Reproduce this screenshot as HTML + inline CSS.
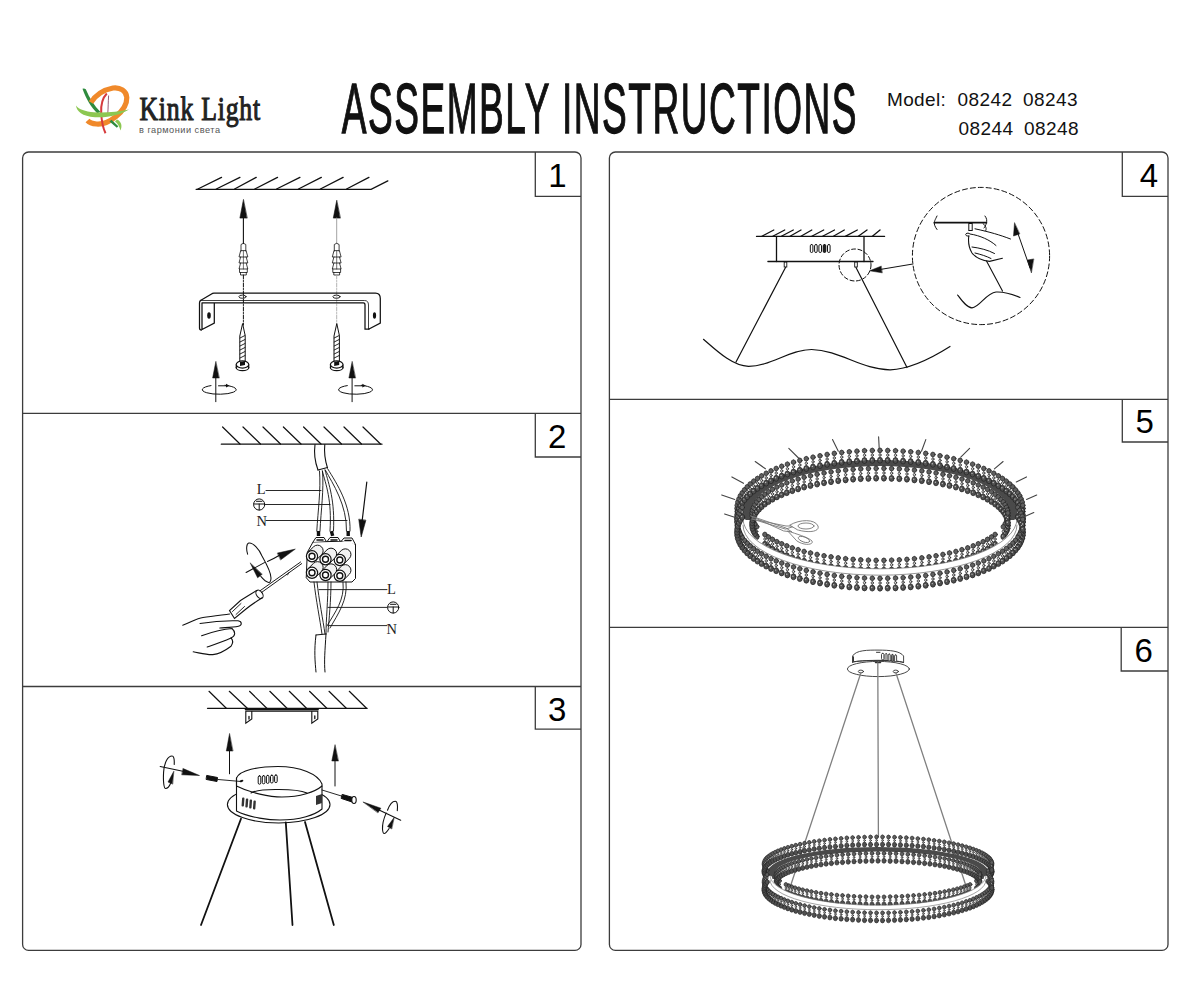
<!DOCTYPE html>
<html><head><meta charset="utf-8">
<style>
html,body{margin:0;padding:0;background:#fff;width:1200px;height:1000px;overflow:hidden}
svg{position:absolute;left:0;top:0}
text{font-family:"Liberation Sans",sans-serif}
</style></head><body>
<svg width="1200" height="1000" viewBox="0 0 1200 1000">
<!-- HEADER -->
<g id="logo">
  <path d="M82.5 88.8 Q84 87.8 85.8 89.2 C89.5 98 94.5 106 100.5 112 L97.2 113.2 C91 107 86 99 82.5 88.8 Z" fill="#2e8b3e"/>
  <path d="M91 102.5 C95 96 103 90 113 88 C120 87 126.5 91 126.8 97.5 C127 104.5 122 111.5 116 116.5 C110 121.5 103 124.5 96.5 124 C92 123.7 88.8 122 87.5 120.5" fill="none" stroke="#f0892a" stroke-width="5.2" stroke-linejoin="round"/>
  <path d="M109.5 121.5 L116.8 127.8 L118.3 126.2 L111.5 119.8 Z" fill="#2e8b3e"/>
  <path d="M117 119.5 C121.5 121.5 122.5 126 120.5 130.5 C119.5 127 118 123.5 115 121.5 Z" fill="#8cc751"/>
  <path d="M106.8 93.5 C102.5 98 100.8 106 101.2 113 C101.6 121 103 128 105.5 133.3" fill="none" stroke="#d63a3c" stroke-width="2"/>
  <path d="M108.6 95.5 C108.2 102 108.2 108 107.8 113" fill="none" stroke="#8a4a66" stroke-width="0.9"/>
  <path d="M76 105.5 C76.8 111.5 82 116.3 95 117.2 C108 118 122 114.3 129 109.5 C118 112 104 113 94 112.3 C85 111.5 79 109.5 76 105.5 Z" fill="#8cc751"/>
</g>
<text x="139.5" y="119.8" font-size="33" fill="#222" stroke="#222" stroke-width="1.1" letter-spacing="1" transform="translate(139.5 0) scale(0.78 1) translate(-139.5 0)" style="font-family:'Liberation Serif',serif">Kink Light</text>
<text x="139" y="132.5" font-size="9.2" fill="#555" letter-spacing="0.5">в гармонии света</text>
<text x="341.5" y="132.6" font-size="71" fill="#111" stroke="#111" stroke-width="1.3" letter-spacing="2.9" transform="translate(342 0) scale(0.522 1) translate(-342 0)">ASSEMBLY INSTRUCTIONS</text>
<text x="887" y="105.7" font-size="19" fill="#111" letter-spacing="0.35">Model:</text>
<text x="957.5" y="105.7" font-size="19" fill="#111" letter-spacing="0.45">08242</text>
<text x="1023" y="105.7" font-size="19" fill="#111" letter-spacing="0.45">08243</text>
<text x="958.5" y="135.4" font-size="19" fill="#111" letter-spacing="0.45">08244</text>
<text x="1024" y="135.4" font-size="19" fill="#111" letter-spacing="0.45">08248</text>

<!-- FRAMES -->
<g fill="none" stroke="#3c3c3c" stroke-width="1.3">
  <rect x="22.6" y="152" width="558.4" height="798.4" rx="6"/>
  <line x1="22.6" y1="413.3" x2="581" y2="413.3"/>
  <line x1="22.6" y1="686.5" x2="581" y2="686.5"/>
  <rect x="609.4" y="152" width="558.6" height="798.4" rx="6"/>
  <line x1="609.4" y1="399.3" x2="1168" y2="399.3"/>
  <line x1="609.4" y1="627.3" x2="1168" y2="627.3"/>
  <!-- number boxes -->
  <polyline points="535.3,152 535.3,196.3 581,196.3"/>
  <polyline points="535.3,413.3 535.3,457 581,457"/>
  <polyline points="535.3,686.5 535.3,729.2 581,729.2"/>
  <polyline points="1122.3,152 1122.3,196.3 1168,196.3"/>
  <polyline points="1122.3,399.3 1122.3,442 1168,442"/>
  <polyline points="1121.2,627.3 1121.2,671 1168,671"/>
</g>
<g font-size="33" fill="#000" text-anchor="middle">
  <text x="557.5" y="186.7">1</text>
  <text x="557.3" y="448.3">2</text>
  <text x="557.3" y="720.8">3</text>
  <text x="1149" y="187">4</text>
  <text x="1144.6" y="432.9">5</text>
  <text x="1143.8" y="661.5">6</text>
</g>

<!-- PANEL DRAWINGS -->
<g id="p1" fill="none" stroke="#111" stroke-width="1.3" stroke-linecap="round">
  <path d="M196.1 189.3 H371.1 L387.8 180.9"/>
  <path d="M197.9 189 L221.5 177.4 M216.3 189 L239.9 177.4 M234.6 189 L256.2 177.4 M254.8 189 L277.5 177.4 M276.6 189 L299.9 177.4 M298.5 189 L321.3 177.4 M320.4 189 L343.1 177.4 M346.6 189 L368.9 177.4"/>
  <!-- arrows -->
  <path d="M243.4 199.8 L239.9 218.1 H246.9 Z" fill="#111" stroke-width="0.6"/>
  <line x1="243.4" y1="218" x2="243.4" y2="243.5" stroke-width="1.1"/>
  <path d="M336.7 200.6 L333.3 218.1 H340.1 Z" fill="#111" stroke-width="0.6"/>
  <line x1="336.7" y1="218" x2="336.7" y2="243.5" stroke="#999" stroke-width="0.9"/>
  <!-- anchors -->
  <g id="anc" stroke-width="0.8">
    <path d="M241 251 V244.5 Q243.4 242 245.8 244.5 V251"/>
    <path d="M240.6 251 L239 257 H247.8 L246.2 251 Z M240.6 257 L239 263 H247.8 L246.2 257 M240.6 263 L239 269 H247.8 L246.2 263"/>
    <path d="M239.5 269 V272.5 H247.3 V269 M240.5 272.5 V275 H246.3 V272.5"/>
    <path d="M243.4 251 V269" stroke-width="0.6"/>
  </g>
  <use href="#anc" x="93.3"/>
  <!-- dashed center lines -->
  <line x1="243.4" y1="275" x2="243.4" y2="325" stroke-width="1" stroke-dasharray="4 1.5 1 1.5"/>
  <line x1="336.7" y1="275" x2="336.7" y2="325" stroke="#aaa" stroke-width="0.9" stroke-dasharray="4 1.5 1 1.5"/>
  <!-- bracket -->
  <path d="M214 293 H375.5 Q380.3 293 380.3 298.5 V323 L369 329 M200.5 300.5 L211.5 294 Q212.5 293 214 293" stroke-width="1.25"/>
  <path d="M200.5 300.5 H364.5 Q368.5 300.5 368.5 305 V329" stroke-width="0.8"/>
  <path d="M202 302.8 H363.5 Q365 302.8 365 305 V329 H369 M200.5 300.5 Q199.5 301.5 199.5 303 V328 Q199.5 330 201.5 330 M202 302.8 V329.5 L214.3 323 V302.8" stroke-width="1.25"/>
  
  <ellipse cx="242.5" cy="296.7" rx="3.6" ry="1.6" stroke-width="0.9"/>
  <ellipse cx="336.5" cy="296.7" rx="3.6" ry="1.6" stroke-width="0.9"/>
  <ellipse cx="209" cy="315.5" rx="1.8" ry="3.2" fill="#111" stroke="none"/>
  <ellipse cx="374.5" cy="315.5" rx="1.6" ry="3.2" fill="#111" stroke="none"/>
  <!-- screws -->
  <g id="scr">
    <path d="M242.5 324 L239.8 336 V362 H245.2 V336 Z" fill="#fff" stroke-width="1"/>
    <path d="M240 338 L245 335.5 M240 342 L245 339.5 M240 346 L245 343.5 M240 350 L245 347.5 M240 354 L245 351.5 M240 358 L245 355.5" stroke-width="0.9"/>
    <ellipse cx="242.5" cy="367.5" rx="6.3" ry="3.2" fill="#fff" stroke-width="1.2"/>
    <path d="M236.2 365 V368 M248.8 365 V368" stroke-width="1"/>
    <ellipse cx="242.5" cy="364.5" rx="6.3" ry="3.6" fill="#fff" stroke-width="1.2"/>
    <path d="M240 362 L245 361 V365 L240 366Z" fill="#111" stroke="none"/>
  </g>
  <use href="#scr" x="94.2"/>
  <!-- rotation arrows -->
  <g id="rot">
    <path d="M215.8 361.7 L212.6 378 H219 Z" fill="#111" stroke-width="0.5"/>
    <line x1="215.8" y1="377" x2="215.8" y2="401.7" stroke-width="1"/>
    <path d="M211 385.6 A17 4.6 0 1 0 225 385.3" stroke-width="1"/>
    <path d="M218.5 385.8 H226" stroke-width="1"/>
    <path d="M226 383.8 L229.5 385.8 L226 387.6Z" fill="#111" stroke="none"/>
  </g>
  <use href="#rot" x="136.3"/>
</g>
<g id="p2" fill="none" stroke="#111" stroke-width="1.2" stroke-linecap="round">
  <path d="M221.3 444.2 H382"/>
  <path d="M222.6 427 L240 444 M243 427 L260.5 444 M263 427 L280.5 444 M283.4 427 L301 444 M303.6 427 L321 444 M324 427 L341.5 444 M344 427 L361.5 444 M363 427 L380.5 444"/>
  <!-- upper cable -->
  <path d="M315 444.5 C314 452 315 462 318 470 M324.8 444.5 C324 452 325 460 327.5 468" stroke-width="1.1"/>
  <path d="M318 470 L327.5 467.5" stroke-width="1.1"/>
  <path d="M319.5 471 C321 490 318 510 316.8 531 M322.5 471 C324 490 321 510 320 531" stroke-width="0.9"/>
  <path d="M322.3 471 C326 485 332 500 330 531 M325 470 C329 485 335 500 333.5 531" stroke-width="0.9"/>
  <path d="M325.3 470 C333 484 347 505 346.5 531 M327.8 469 C337 484 351 505 350 531" stroke-width="0.9"/>
  <rect x="316.8" y="531" width="3.4" height="5" fill="#111" stroke="none"/>
  <rect x="330.2" y="531" width="3.4" height="5" fill="#111" stroke="none" transform="rotate(-15 332 533)"/>
  <rect x="346.5" y="531" width="3.4" height="5" fill="#111" stroke="none"/>
  <path d="M266 490.5 H321 M265.5 504.5 H330 M266 520.5 H347" stroke-width="0.9"/>
  <!-- labels -->
  <text x="256.8" y="493.5" font-size="14.5" fill="#222" stroke="none" style="font-family:'Liberation Serif',serif">L</text>
  <text x="256.5" y="525.5" font-size="14.5" fill="#222" stroke="none" style="font-family:'Liberation Serif',serif">N</text>
  <g id="earth" stroke-width="1">
    <circle cx="259.2" cy="504.5" r="5.6"/>
    <path d="M253.8 504 H264.6 M259.2 504 V510 M256.5 501.3 H262"/>
  </g>
  <!-- arrow down -->
  <path d="M366.8 482 L362 522"/>
  <path d="M358.8 519.5 L361.2 537 L365.8 520.5 Z" fill="#111" stroke-width="0.6"/>
  <!-- terminal block -->
  <g stroke-width="1">
  <path d="M307.5 552 L313 542 L349 541 L355.5 544.5 V578.5 L352 582 H310 L306.5 578 Z" fill="#fff"/>
  <path d="M313 542 L316 537.5 H324 L326 541 M327.5 541 L330 537.5 H338 L340 541 M341.5 541 L344 538 H352 L355.5 544.5" fill="#fff"/>
  <path d="M317 540 H323 M331 540 H337 M345 540.5 H351" stroke-width="1.6"/>
  <path d="M343.8 579.8 L349.3 574.3 A5.6 5.6 0 0 0 341.3 566.3 L335.8 571.8 Z" fill="#f2f2f2" stroke-width="1"/>
  <circle cx="339.8" cy="575.8" r="5.6" fill="#fff" stroke-width="1.2"/>
  <circle cx="339.8" cy="575.8" r="3" fill="#fff" stroke-width="1.4"/>
  <path d="M329.5 579.0 L335.0 573.5 A5.6 5.6 0 0 0 327.0 565.5 L321.5 571.0 Z" fill="#f2f2f2" stroke-width="1"/>
  <circle cx="325.5" cy="575" r="5.6" fill="#fff" stroke-width="1.2"/>
  <circle cx="325.5" cy="575" r="3" fill="#fff" stroke-width="1.4"/>
  <path d="M316.0 576.8 L321.5 571.3 A5.6 5.6 0 0 0 313.5 563.3 L308.0 568.8 Z" fill="#f2f2f2" stroke-width="1"/>
  <circle cx="312" cy="572.8" r="5.6" fill="#fff" stroke-width="1.2"/>
  <circle cx="312" cy="572.8" r="3" fill="#fff" stroke-width="1.4"/>
  <path d="M343.8 564.0 L349.3 558.5 A5.6 5.6 0 0 0 341.3 550.5 L335.8 556.0 Z" fill="#f2f2f2" stroke-width="1"/>
  <circle cx="339.8" cy="560" r="5.6" fill="#fff" stroke-width="1.2"/>
  <circle cx="339.8" cy="560" r="3" fill="#fff" stroke-width="1.4"/>
  <path d="M329.5 563.3 L335.0 557.8 A5.6 5.6 0 0 0 327.0 549.8 L321.5 555.3 Z" fill="#f2f2f2" stroke-width="1"/>
  <circle cx="325.5" cy="559.3" r="5.6" fill="#fff" stroke-width="1.2"/>
  <circle cx="325.5" cy="559.3" r="3" fill="#fff" stroke-width="1.4"/>
  <path d="M316.0 560.3 L321.5 554.8 A5.6 5.6 0 0 0 313.5 546.8 L308.0 552.3 Z" fill="#f2f2f2" stroke-width="1"/>
  <circle cx="312" cy="556.3" r="5.6" fill="#fff" stroke-width="1.2"/>
  <circle cx="312" cy="556.3" r="3" fill="#fff" stroke-width="1.4"/>
  </g>
  <!-- lower wires -->
  <path d="M314 582 C316 600 320 620 322 634 M317 582 C319 600 323 620 325 634" stroke-width="0.9"/>
  <path d="M328 582 C328 600 326 620 326 634 M331 582 C331 600 329 620 328 632" stroke-width="0.9"/>
  <path d="M343 582 C345 600 335 612 327 626 M346 582 C348 600 338 614 330 628" stroke-width="0.9"/>
  <path d="M316 635 C314 650 315 662 316 672 M326 634 C325 650 324 662 325 672 M316 635 L326 634" stroke-width="1"/>
  <path d="M319 589.6 H387 M328 607.4 H387 M329 625.6 H387" stroke-width="0.9"/>
  <text x="387" y="593.5" font-size="14.5" fill="#222" stroke="none" style="font-family:'Liberation Serif',serif">L</text>
  <text x="386.5" y="633.5" font-size="14.5" fill="#222" stroke="none" style="font-family:'Liberation Serif',serif">N</text>
  <use href="#earth" x="134" y="103"/>
  <!-- rotation symbol -->
  <path d="M247.6 554.2 C246 549 246.5 543.5 248.8 543.1 C253 542.5 259 549 262 556 C266 563 271 572 271 578 C271 582 269.5 582.6 268.6 582.4 C266 582 263 579 260.8 576.4" stroke-width="1.05"/>
  <path d="M246.1 572.5 L264.4 562.6 M267.4 561.4 C271 560 275 558 279 555.5" stroke-width="1.05"/>
  <path d="M277.6 553 L295.3 549.1 L280.8 559.8 Z" fill="#111" stroke-width="0.5"/>
  <path d="M250.3 563.2 L257.6 577.8 L262 574.4 Z" fill="#111" stroke-width="0.5"/>
  <!-- screwdriver -->
  <path d="M301.7 563.6 L261.5 592.5 M300.6 562 L260 590.8" stroke-width="0.95"/>
  <path d="M289 572.5 L287.5 575" stroke-width="0.8"/>
  <ellipse cx="259.5" cy="594.3" rx="3" ry="4.6" transform="rotate(-35 259.5 594.3)" stroke-width="1.1"/>
  <path d="M256.5 590.5 C251 594 246 597 240.5 600.5 L229.5 610.5 L234.5 618.5 L246 609 C251 605 256 601.5 262 598" stroke-width="1.1"/>
  <path d="M241 603.5 L232.5 611.5 M244.5 606.5 L236 614.5" stroke-width="0.9"/>
  <!-- hand -->
  <path d="M182.7 625.2 C190 623 196 618.5 203 617.5 C212 616.5 222 615 229.6 614" stroke-width="1.1"/>
  <path d="M200 623.5 C212 621.5 228 620.5 238 620.8 C242.5 621.5 242 625.5 238.5 626.2 C232 627.5 225 627.5 219.8 628" stroke-width="1.1"/>
  <path d="M201.6 635.7 C212 632 224 629 232 628.5 C236 632 235.5 636 231 638 C222 642 213 645 207.2 647" stroke-width="1.1"/>
  <path d="M193.2 651.8 C200 653 207 655 212.8 654.6 C220 654 226 650 231 646.2 C233.5 642.5 233 640 231 638" stroke-width="1.1"/>
</g>
<g id="p3" fill="none" stroke="#111" stroke-width="1.2" stroke-linecap="round">
  <path d="M207.5 708.3 H367.2"/>
  <path d="M209 691.3 L226.3 708.3 M229.3 691.3 L247.3 708.3 M249.5 691.3 L266.8 708.3 M269.8 691.3 L287 708.3 M289.3 691.3 L306.5 708.3 M309.5 691.3 L326.8 708.3 M329 691.3 L346.3 708.3 M349.3 691.3 L366.5 708.3"/>
  <!-- small bracket -->
  <path d="M245.8 711.3 H317.8 V719 L311.8 723.3 V711.3 M251.8 711.3 V719 L245.8 723.3 V711.3" stroke-width="1.1"/>
  <path d="M245.8 709.5 H317.8" stroke-width="2.2"/>
  <path d="M249 716.5 V719 M314.8 716 V718.5" stroke-width="1.3"/>
  <!-- up arrows -->
  <path d="M229.5 733.8 L226.3 751 H232.7 Z" fill="#111" stroke-width="0.5"/>
  <line x1="229.5" y1="750" x2="229.5" y2="773.8" stroke-width="1"/>
  <path d="M335 745 L331.8 761 H338.2 Z" fill="#111" stroke-width="0.5"/>
  <line x1="335" y1="760" x2="335" y2="786" stroke-width="1"/>
  <!-- flange -->
  <ellipse cx="278.7" cy="804.5" rx="51.3" ry="18.5" fill="#fff" stroke-width="1.1"/>
  <!-- cylinder -->
  <path d="M236.5 778 C240 770 258 766.5 278 766.5 C300 766.5 318 774 322 784 V809 C315 815 300 820 280 820 C270 820 250 818 236.5 811 Z" fill="#fff" stroke-width="1.1"/>
  <path d="M236.5 778 V786 C250 793 270 797 282 797 C300 797 315 792 322 786" stroke-width="1.1"/>
  <path d="M251 793 C258 789 270 789.5 279 789.5 C290 789.5 300 790 307 793" stroke-width="1.1"/>
  <!-- vents -->
  <g fill="#fff" stroke-width="1">
    <rect x="258.2" y="775.8" width="2.6" height="8.4" rx="1.3"/>
    <rect x="262.3" y="775.6" width="2.6" height="8.2" rx="1.3"/>
    <rect x="266.4" y="775.4" width="2.6" height="8" rx="1.3"/>
    <rect x="270.5" y="775.2" width="2.6" height="7.8" rx="1.3"/>
    <rect x="274.6" y="775" width="2.6" height="7.6" rx="1.3"/>
  </g>
  <g fill="#333" stroke="none">
    <rect x="241.8" y="797.5" width="2.4" height="9" rx="1" transform="rotate(4 243 802)"/>
    <rect x="245.6" y="798.5" width="2.4" height="9" rx="1" transform="rotate(4 247 803)"/>
    <rect x="249.4" y="799.5" width="2.4" height="9" rx="1" transform="rotate(4 251 804)"/>
    <rect x="253.2" y="800.5" width="2.4" height="9" rx="1" transform="rotate(4 255 805)"/>
    <path d="M316 796 L322 794 V803 L316 805 Z"/>
  </g>
  <ellipse cx="241.5" cy="781" rx="2" ry="1" fill="#111" stroke="none" transform="rotate(-25 241.5 781)"/>
  <!-- left screw + arrow -->
  <path d="M207 775.5 L217.5 777.5 L217 781.5 L206.5 779.5 Z" fill="#111" stroke-width="1"/>
  <line x1="218" y1="779.5" x2="241" y2="781.5" stroke-width="0.9"/>
  
  
  
  
  
  <!-- right screw + arrow -->
  <line x1="322" y1="790" x2="343" y2="796.5" stroke-width="0.9"/>
  <path d="M342.5 794.5 L353 797.5 L352 802 L341.5 798.5 Z" fill="#111" stroke-width="1"/>
  <ellipse cx="354" cy="800" rx="2.2" ry="3.5" fill="#fff" stroke-width="1.1"/>
  
  
  
  
  
  <path d="M174.2 764.5 C174.6 758 173.5 756 172 756 C168 756 164.3 762 163.6 772 C163 782 164 788.5 165.6 788.5 C167.5 788.5 169.5 786 170.5 783.5" stroke-width="1.1"/>
  <path d="M173.7 771.5 L168 782 L172.4 784 Z" fill="#111" stroke-width="0.5"/>
  <path d="M160.2 766.5 L184 771.5" stroke-width="1.1"/>
  <path d="M183.2 768.6 L199.5 775.5 L182 774.8 Z" fill="#111" stroke-width="0.5"/>
  <path d="M387.5 810.3 C389.5 805 392.5 801.3 395.2 801.3 C397.5 801.3 397.8 806 397.3 810.6" stroke-width="1.1"/>
  <path d="M386.1 813.1 C384 818 382.3 824 382.5 829 C382.7 832 383.5 833.5 384.2 833.5 C385.5 833.5 387.5 831 389.1 828.5" stroke-width="1.1"/>
  <path d="M394.1 817.5 L387.5 826.5 L391.5 828.8 Z" fill="#111" stroke-width="0.5"/>
  <path d="M400.7 820.3 L378 809.5" stroke-width="1.1"/>
  <path d="M363.3 802.1 L380.9 808.2 L378.1 812.6 Z" fill="#111" stroke-width="0.5"/>
  <!-- suspension wires -->
  <path d="M241 818.8 L201 925 M285.8 822.5 L292.5 925 M305 822 L333.8 925" stroke-width="1.8"/>
</g>
<g id="p4" fill="none" stroke="#111" stroke-width="1.2" stroke-linecap="round">
  <path d="M756.5 236.4 H884.6"/>
  <path d="M761.9 236.3 L773.8 230 M772.8 236.3 L784.7 230 M781.4 236.3 L793.3 230 M790 236.3 L801 230 M800.9 236.3 L811.8 230 M811.8 236.3 L823.7 230 M822.6 236.3 L834.5 230 M833.4 236.3 L844.3 230 M845.3 236.3 L857.3 230 M858.3 236.3 L867 230 M872.4 236.3 L880 230" stroke-width="1.3"/>
  <path d="M776.5 236.5 V261.5 M864 236.5 V261.5" stroke-width="1.3"/>
  <path d="M767.9 261.5 H873" stroke-width="1.3"/>
  <g fill="#fff" stroke-width="1">
    <rect x="810.3" y="244.5" width="2.6" height="8" rx="1.3"/>
    <rect x="814.6" y="244.5" width="2.6" height="8" rx="1.3"/>
    <rect x="818.9" y="244.5" width="2.6" height="8" rx="1.3"/>
    <rect x="823.2" y="244.5" width="2.6" height="8" rx="1.3" fill="#222"/>
    <rect x="827.5" y="244.5" width="2.6" height="8" rx="1.3"/>
  </g>
  <rect x="784.2" y="262" width="2.6" height="5" stroke-width="0.9"/>
  <rect x="854.7" y="262" width="2.6" height="5" stroke-width="0.9"/>
  <path d="M785.5 267.5 L736 362 M856 267.5 L907 367.5" stroke-width="1.2"/>
  <path d="M703.5 339.3 C718 352 733 366 748.5 366.4 C770 366.5 790 349.5 811.6 349.5 C840 350 862 370 890.3 369.8 C912 369 935 356 950 346.5" stroke-width="1.2"/>
  <circle cx="855" cy="265" r="16" stroke-width="1" stroke-dasharray="4 2.5"/>
  <!-- pointer arrow -->
  <path d="M913 264 L880 269.5" stroke-width="1"/>
  <path d="M881 266.2 L869.5 270.8 L882 272.8 Z" fill="#111" stroke-width="0.5"/>
  <!-- big detail circle -->
  <circle cx="981" cy="256" r="68.6" stroke-width="1" stroke-dasharray="5 3"/>
  <path d="M934.4 222.7 H986.4" stroke-width="1.8"/>
  <path d="M937 216 C935 220 934 222 934.4 222.7 C934 224 935 227 937 229.5" stroke-width="1"/>
  <path d="M985 216 C987 218.5 987 221 986.4 222.7 C986 225 985 227 984 228" stroke-width="1"/>
  <rect x="968.8" y="223.5" width="3.4" height="7" stroke-width="1"/>
  <path d="M975 228.8 C990 232 1000 235 1010.5 239" stroke-width="1"/>
  <path d="M983 223.5 C986 226 987 229 985.5 231" stroke-width="1"/>
  <path d="M969 236 C966.5 236.5 965 235 966 233.8 C967 232.8 969 233 970 234 C980 235.5 990 240 996 245.5" stroke-width="1"/>
  <path d="M968.8 236 C968 242 969 248 972 253 C976 258 982 260.5 989.6 261.4 L1002.4 258.2" stroke-width="1.1"/>
  <path d="M972 247 C980 248 988 250 994.5 253.5 M975 253 C981 254.5 986 256 991 258.5" stroke-width="1"/>
  <path d="M986.5 261 L1002.5 291 M957.6 295 C962 301 967 308 972 307.9 C980 307 986 293 996 292 C1005 291.5 1012 294 1020 297.5" stroke-width="1.1"/>
  <path d="M1016 228 L1030 268" stroke-width="1"/>
  <path d="M1014.5 223 L1013.5 236 L1019.5 234 Z M1031.3 272.6 L1027.5 260 L1033.5 259 Z" fill="#111" stroke-width="0.5"/>
</g>
<g id="p5" fill="none" stroke-linecap="round">
  <defs>
  <g id="s5" stroke="#222" stroke-width="0.7" fill="#606060">
    <path d="M0 0 V13" stroke="#444" stroke-width="0.7"/>
    <circle cx="0" cy="2.4" r="2.3"/>
    <circle cx="0" cy="7" r="1.2" fill="#ddd"/>
    <ellipse cx="0" cy="12.2" rx="2.5" ry="3" fill="#505050"/>
    <circle cx="-0.6" cy="11.6" r="0.7" fill="#bbb" stroke="none"/>
  </g>
  <g id="s6" stroke="#222" stroke-width="0.6" fill="#606060">
    <path d="M0 0 V10" stroke="#444" stroke-width="0.6"/>
    <circle cx="0" cy="1.9" r="1.9"/>
    <circle cx="0" cy="5.3" r="0.9" fill="#ddd"/>
    <ellipse cx="0" cy="9.4" rx="2.1" ry="2.5" fill="#505050"/>
  </g>
</defs>
  <path d="M740.0 520.0 V512.0 A140 52 0 0 1 1020.0 512.0 V520.0 L1009.0 520.0 V512.0 A129 46 0 0 0 751.0 512.0 V520.0 Z" fill="#4a4a4a" stroke="none"/>
  <g><use href="#s5" x="1023.0" y="506.0"/><use href="#s5" x="1022.8" y="509.1"/><use href="#s5" x="1022.2" y="512.3"/><use href="#s5" x="1021.1" y="515.4"/><use href="#s5" x="1019.7" y="518.5"/><use href="#s5" x="1017.8" y="521.5"/><use href="#s5" x="742.2" y="521.5"/><use href="#s5" x="740.3" y="518.5"/><use href="#s5" x="738.9" y="515.4"/><use href="#s5" x="737.8" y="512.3"/><use href="#s5" x="737.2" y="509.1"/><use href="#s5" x="737.0" y="506.0"/><use href="#s5" x="737.2" y="502.9"/><use href="#s5" x="737.8" y="499.7"/><use href="#s5" x="738.9" y="496.6"/><use href="#s5" x="740.3" y="493.5"/><use href="#s5" x="742.2" y="490.5"/><use href="#s5" x="744.5" y="487.5"/><use href="#s5" x="747.2" y="484.5"/><use href="#s5" x="750.2" y="481.6"/><use href="#s5" x="753.7" y="478.8"/><use href="#s5" x="757.5" y="476.1"/><use href="#s5" x="761.6" y="473.5"/><use href="#s5" x="766.2" y="470.9"/><use href="#s5" x="771.0" y="468.5"/><use href="#s5" x="776.2" y="466.1"/><use href="#s5" x="781.7" y="463.9"/><use href="#s5" x="787.4" y="461.8"/><use href="#s5" x="793.5" y="459.8"/><use href="#s5" x="799.8" y="458.0"/><use href="#s5" x="806.3" y="456.3"/><use href="#s5" x="813.0" y="454.8"/><use href="#s5" x="820.0" y="453.4"/><use href="#s5" x="827.1" y="452.1"/><use href="#s5" x="834.3" y="451.0"/><use href="#s5" x="841.7" y="450.1"/><use href="#s5" x="849.3" y="449.4"/><use href="#s5" x="856.9" y="448.8"/><use href="#s5" x="864.5" y="448.3"/><use href="#s5" x="872.3" y="448.1"/><use href="#s5" x="880.0" y="448.0"/><use href="#s5" x="887.7" y="448.1"/><use href="#s5" x="895.5" y="448.3"/><use href="#s5" x="903.1" y="448.8"/><use href="#s5" x="910.7" y="449.4"/><use href="#s5" x="918.3" y="450.1"/><use href="#s5" x="925.7" y="451.0"/><use href="#s5" x="932.9" y="452.1"/><use href="#s5" x="940.0" y="453.4"/><use href="#s5" x="947.0" y="454.8"/><use href="#s5" x="953.7" y="456.3"/><use href="#s5" x="960.2" y="458.0"/><use href="#s5" x="966.5" y="459.8"/><use href="#s5" x="972.6" y="461.8"/><use href="#s5" x="978.3" y="463.9"/><use href="#s5" x="983.8" y="466.1"/><use href="#s5" x="989.0" y="468.5"/><use href="#s5" x="993.8" y="470.9"/><use href="#s5" x="998.4" y="473.5"/><use href="#s5" x="1002.5" y="476.1"/><use href="#s5" x="1006.3" y="478.8"/><use href="#s5" x="1009.8" y="481.6"/><use href="#s5" x="1012.8" y="484.5"/><use href="#s5" x="1015.5" y="487.5"/><use href="#s5" x="1017.8" y="490.5"/><use href="#s5" x="1019.7" y="493.5"/><use href="#s5" x="1021.1" y="496.6"/><use href="#s5" x="1022.2" y="499.7"/><use href="#s5" x="1022.8" y="502.9"/></g>
  <g><use href="#s5" x="1007.9" y="513.4"/><use href="#s5" x="1007.5" y="516.2"/><use href="#s5" x="1006.5" y="518.9"/><use href="#s5" x="1005.1" y="521.7"/><use href="#s5" x="1003.3" y="524.4"/><use href="#s5" x="756.7" y="524.4"/><use href="#s5" x="754.9" y="521.7"/><use href="#s5" x="753.5" y="518.9"/><use href="#s5" x="752.5" y="516.2"/><use href="#s5" x="752.1" y="513.4"/><use href="#s5" x="752.1" y="510.6"/><use href="#s5" x="752.5" y="507.8"/><use href="#s5" x="753.5" y="505.1"/><use href="#s5" x="754.9" y="502.3"/><use href="#s5" x="756.7" y="499.6"/><use href="#s5" x="759.0" y="497.0"/><use href="#s5" x="761.7" y="494.4"/><use href="#s5" x="764.9" y="491.9"/><use href="#s5" x="768.5" y="489.4"/><use href="#s5" x="772.5" y="487.0"/><use href="#s5" x="776.9" y="484.7"/><use href="#s5" x="781.7" y="482.6"/><use href="#s5" x="786.8" y="480.5"/><use href="#s5" x="792.3" y="478.5"/><use href="#s5" x="798.1" y="476.7"/><use href="#s5" x="804.1" y="474.9"/><use href="#s5" x="810.5" y="473.4"/><use href="#s5" x="817.1" y="471.9"/><use href="#s5" x="824.0" y="470.6"/><use href="#s5" x="831.0" y="469.5"/><use href="#s5" x="838.2" y="468.5"/><use href="#s5" x="845.6" y="467.7"/><use href="#s5" x="853.1" y="467.0"/><use href="#s5" x="860.7" y="466.5"/><use href="#s5" x="868.4" y="466.2"/><use href="#s5" x="876.1" y="466.0"/><use href="#s5" x="883.9" y="466.0"/><use href="#s5" x="891.6" y="466.2"/><use href="#s5" x="899.3" y="466.5"/><use href="#s5" x="906.9" y="467.0"/><use href="#s5" x="914.4" y="467.7"/><use href="#s5" x="921.8" y="468.5"/><use href="#s5" x="929.0" y="469.5"/><use href="#s5" x="936.0" y="470.6"/><use href="#s5" x="942.9" y="471.9"/><use href="#s5" x="949.5" y="473.4"/><use href="#s5" x="955.9" y="474.9"/><use href="#s5" x="961.9" y="476.7"/><use href="#s5" x="967.7" y="478.5"/><use href="#s5" x="973.2" y="480.5"/><use href="#s5" x="978.3" y="482.6"/><use href="#s5" x="983.1" y="484.7"/><use href="#s5" x="987.5" y="487.0"/><use href="#s5" x="991.5" y="489.4"/><use href="#s5" x="995.1" y="491.9"/><use href="#s5" x="998.3" y="494.4"/><use href="#s5" x="1001.0" y="497.0"/><use href="#s5" x="1003.3" y="499.6"/><use href="#s5" x="1005.1" y="502.3"/><use href="#s5" x="1006.5" y="505.1"/><use href="#s5" x="1007.5" y="507.8"/><use href="#s5" x="1007.9" y="510.6"/></g>
  <g><use href="#s5" x="995.1" y="532.1"/><use href="#s5" x="991.5" y="534.6"/><use href="#s5" x="987.5" y="537.0"/><use href="#s5" x="983.1" y="539.3"/><use href="#s5" x="978.3" y="541.4"/><use href="#s5" x="973.2" y="543.5"/><use href="#s5" x="967.7" y="545.5"/><use href="#s5" x="961.9" y="547.3"/><use href="#s5" x="955.9" y="549.1"/><use href="#s5" x="949.5" y="550.6"/><use href="#s5" x="942.9" y="552.1"/><use href="#s5" x="936.0" y="553.4"/><use href="#s5" x="929.0" y="554.5"/><use href="#s5" x="921.8" y="555.5"/><use href="#s5" x="914.4" y="556.3"/><use href="#s5" x="906.9" y="557.0"/><use href="#s5" x="899.3" y="557.5"/><use href="#s5" x="891.6" y="557.8"/><use href="#s5" x="883.9" y="558.0"/><use href="#s5" x="876.1" y="558.0"/><use href="#s5" x="868.4" y="557.8"/><use href="#s5" x="860.7" y="557.5"/><use href="#s5" x="853.1" y="557.0"/><use href="#s5" x="845.6" y="556.3"/><use href="#s5" x="838.2" y="555.5"/><use href="#s5" x="831.0" y="554.5"/><use href="#s5" x="824.0" y="553.4"/><use href="#s5" x="817.1" y="552.1"/><use href="#s5" x="810.5" y="550.6"/><use href="#s5" x="804.1" y="549.1"/><use href="#s5" x="798.1" y="547.3"/><use href="#s5" x="792.3" y="545.5"/><use href="#s5" x="786.8" y="543.5"/><use href="#s5" x="781.7" y="541.4"/><use href="#s5" x="776.9" y="539.3"/><use href="#s5" x="772.5" y="537.0"/><use href="#s5" x="768.5" y="534.6"/><use href="#s5" x="764.9" y="532.1"/></g>
  <g fill="none"><path d="M743.0 522.0 A137.0 50.0 0 0 0 1017.0 522.0" stroke="#fff" stroke-width="6.5"/><path d="M743.0 518.8 A137.0 50.0 0 0 0 1017.0 518.8" stroke="#666" stroke-width="0.7"/><path d="M743.0 525.2 A137.0 50.0 0 0 0 1017.0 525.2" stroke="#666" stroke-width="0.7"/></g>
  <g><use href="#s5" x="1023.0" y="520.0"/><use href="#s5" x="1022.8" y="523.0"/><use href="#s5" x="1022.2" y="526.1"/><use href="#s5" x="1021.1" y="529.1"/><use href="#s5" x="1019.7" y="532.0"/><use href="#s5" x="1017.8" y="535.0"/><use href="#s5" x="1015.5" y="537.9"/><use href="#s5" x="1012.8" y="540.7"/><use href="#s5" x="1009.8" y="543.5"/><use href="#s5" x="1006.3" y="546.2"/><use href="#s5" x="1002.5" y="548.9"/><use href="#s5" x="998.4" y="551.4"/><use href="#s5" x="993.8" y="553.9"/><use href="#s5" x="989.0" y="556.3"/><use href="#s5" x="983.8" y="558.5"/><use href="#s5" x="978.3" y="560.7"/><use href="#s5" x="972.6" y="562.7"/><use href="#s5" x="966.5" y="564.6"/><use href="#s5" x="960.2" y="566.4"/><use href="#s5" x="953.7" y="568.0"/><use href="#s5" x="947.0" y="569.5"/><use href="#s5" x="940.0" y="570.8"/><use href="#s5" x="932.9" y="572.0"/><use href="#s5" x="925.7" y="573.1"/><use href="#s5" x="918.3" y="574.0"/><use href="#s5" x="910.7" y="574.7"/><use href="#s5" x="903.1" y="575.3"/><use href="#s5" x="895.5" y="575.7"/><use href="#s5" x="887.7" y="575.9"/><use href="#s5" x="880.0" y="576.0"/><use href="#s5" x="872.3" y="575.9"/><use href="#s5" x="864.5" y="575.7"/><use href="#s5" x="856.9" y="575.3"/><use href="#s5" x="849.3" y="574.7"/><use href="#s5" x="841.7" y="574.0"/><use href="#s5" x="834.3" y="573.1"/><use href="#s5" x="827.1" y="572.0"/><use href="#s5" x="820.0" y="570.8"/><use href="#s5" x="813.0" y="569.5"/><use href="#s5" x="806.3" y="568.0"/><use href="#s5" x="799.8" y="566.4"/><use href="#s5" x="793.5" y="564.6"/><use href="#s5" x="787.4" y="562.7"/><use href="#s5" x="781.7" y="560.7"/><use href="#s5" x="776.2" y="558.5"/><use href="#s5" x="771.0" y="556.3"/><use href="#s5" x="766.2" y="553.9"/><use href="#s5" x="761.6" y="551.4"/><use href="#s5" x="757.5" y="548.9"/><use href="#s5" x="753.7" y="546.2"/><use href="#s5" x="750.2" y="543.5"/><use href="#s5" x="747.2" y="540.7"/><use href="#s5" x="744.5" y="537.9"/><use href="#s5" x="742.2" y="535.0"/><use href="#s5" x="740.3" y="532.0"/><use href="#s5" x="738.9" y="529.1"/><use href="#s5" x="737.8" y="526.1"/><use href="#s5" x="737.2" y="523.0"/><use href="#s5" x="737.0" y="520.0"/><use href="#s5" x="737.2" y="517.0"/><use href="#s5" x="737.8" y="513.9"/><use href="#s5" x="738.9" y="510.9"/><use href="#s5" x="740.3" y="508.0"/><use href="#s5" x="742.2" y="505.0"/><use href="#s5" x="1017.8" y="505.0"/><use href="#s5" x="1019.7" y="508.0"/><use href="#s5" x="1021.1" y="510.9"/><use href="#s5" x="1022.2" y="513.9"/><use href="#s5" x="1022.8" y="517.0"/></g>
  <g stroke="#444" stroke-width="1.1">
    <path d="M724.6 514 L737.7 518.3 M721.7 495 L734.8 499.4 M731.9 476.9 L743.5 483.3 M755.2 461.5 L765.4 468.8 M788.8 448.3 L799 458.5 M832.5 439.6 L838.3 451.3 M878.6 436.7 L879.2 448.3 M925.8 439.6 L921.5 451.3 M969.6 448.3 L960.8 457.1 M1003.1 461.5 L994.4 468.8 M1026.5 476.9 L1016.3 481.9 M1036.7 495 L1026.5 499.4 M1033.8 512.5 L1023.6 516.9"/>
  </g>
  <g stroke="#777" stroke-width="0.9" fill="#fff">
    <path d="M751 516 L786 528 L792 532 L784 531 Z" fill="none"/>
    <path d="M752 519 L786 526 L795 526 L786 529 Z" fill="none"/>
    <path d="M790 525 C800 519 815 519 818 526 C820 532 808 533 798 530 Z"/>
    <path d="M788 531 C796 534 808 537 812 541 C814 545 804 546 797 541 Z"/>
    <ellipse cx="806" cy="526" rx="8" ry="3" fill="none"/>
    <ellipse cx="804" cy="539.5" rx="6" ry="2.5" fill="none" transform="rotate(20 804 539.5)"/>
  </g>
</g>
<g id="p6" fill="none" stroke-linecap="round">
  <!-- canopy -->
  <g stroke="#333" stroke-width="0.9">
    <ellipse cx="878.4" cy="669" rx="31" ry="7.6" fill="#fff"/>
    <path d="M852.6 662.1 V656 C856 650 868 650.1 878 650.1 C890 650.1 900 651 903.6 656 V662.5 C895 660 861 659.5 852.6 662.1 Z" fill="#fff"/>
    <path d="M852.6 662 C860 660.5 895 659 903.6 662.5" />
    <ellipse cx="860.9" cy="671.5" rx="2.6" ry="1.4"/>
    <ellipse cx="895.8" cy="671.5" rx="2.6" ry="1.4"/>
    <path d="M875.5 662.5 H880.5" stroke-width="1.5"/>
    <path d="M876.5 652.3 H880" stroke-width="1"/>
    <rect x="881.5" y="653.3" width="2.4" height="6.5" rx="1.2"/>
    <rect x="885" y="653.6" width="2" height="7" rx="1"/>
    <rect x="888.2" y="654" width="2" height="7" rx="1" fill="#fff"/>
    <rect x="891.4" y="654.4" width="2" height="7" rx="1" fill="#888"/>
    <rect x="894.6" y="654.8" width="2" height="7" rx="1" fill="#fff"/>
    <path d="M853.2 657 V661" stroke-width="1.6"/>
  </g>
  <g stroke="#808080" stroke-width="1.3">
    <path d="M861 672.5 L790.5 886 M877.8 663 L878.4 836.5 M895.8 672.5 L966 886"/>
  </g>
  <path d="M767.0 879.0 V873.0 A111 26 0 0 1 989.0 873.0 V879.0 L981.0 879.0 V873.0 A103 21.5 0 0 0 775.0 873.0 V879.0 Z" fill="#4a4a4a" stroke="none"/>
  <g><use href="#s6" x="992.0" y="862.0"/><use href="#s6" x="991.8" y="863.4"/><use href="#s6" x="991.4" y="864.8"/><use href="#s6" x="990.6" y="866.3"/><use href="#s6" x="989.5" y="867.7"/><use href="#s6" x="988.1" y="869.0"/><use href="#s6" x="767.2" y="868.4"/><use href="#s6" x="765.9" y="867.0"/><use href="#s6" x="765.0" y="865.6"/><use href="#s6" x="764.4" y="864.1"/><use href="#s6" x="764.0" y="862.7"/><use href="#s6" x="764.0" y="861.3"/><use href="#s6" x="764.4" y="859.9"/><use href="#s6" x="765.0" y="858.4"/><use href="#s6" x="765.9" y="857.0"/><use href="#s6" x="767.2" y="855.6"/><use href="#s6" x="768.8" y="854.3"/><use href="#s6" x="770.6" y="852.9"/><use href="#s6" x="772.8" y="851.6"/><use href="#s6" x="775.3" y="850.3"/><use href="#s6" x="778.0" y="849.0"/><use href="#s6" x="781.1" y="847.8"/><use href="#s6" x="784.4" y="846.6"/><use href="#s6" x="787.9" y="845.4"/><use href="#s6" x="791.8" y="844.3"/><use href="#s6" x="795.8" y="843.3"/><use href="#s6" x="800.1" y="842.3"/><use href="#s6" x="804.6" y="841.3"/><use href="#s6" x="809.3" y="840.5"/><use href="#s6" x="814.2" y="839.6"/><use href="#s6" x="819.3" y="838.9"/><use href="#s6" x="824.5" y="838.2"/><use href="#s6" x="829.9" y="837.5"/><use href="#s6" x="835.4" y="837.0"/><use href="#s6" x="841.1" y="836.5"/><use href="#s6" x="846.8" y="836.0"/><use href="#s6" x="852.6" y="835.7"/><use href="#s6" x="858.5" y="835.4"/><use href="#s6" x="864.5" y="835.2"/><use href="#s6" x="870.5" y="835.1"/><use href="#s6" x="876.5" y="835.0"/><use href="#s6" x="882.5" y="835.0"/><use href="#s6" x="888.5" y="835.1"/><use href="#s6" x="894.5" y="835.3"/><use href="#s6" x="900.4" y="835.5"/><use href="#s6" x="906.3" y="835.8"/><use href="#s6" x="912.1" y="836.2"/><use href="#s6" x="917.8" y="836.7"/><use href="#s6" x="923.4" y="837.2"/><use href="#s6" x="928.8" y="837.8"/><use href="#s6" x="934.1" y="838.5"/><use href="#s6" x="939.3" y="839.2"/><use href="#s6" x="944.3" y="840.0"/><use href="#s6" x="949.1" y="840.9"/><use href="#s6" x="953.7" y="841.8"/><use href="#s6" x="958.1" y="842.8"/><use href="#s6" x="962.2" y="843.8"/><use href="#s6" x="966.2" y="844.9"/><use href="#s6" x="969.9" y="846.0"/><use href="#s6" x="973.3" y="847.2"/><use href="#s6" x="976.5" y="848.4"/><use href="#s6" x="979.4" y="849.6"/><use href="#s6" x="982.0" y="850.9"/><use href="#s6" x="984.3" y="852.2"/><use href="#s6" x="986.3" y="853.6"/><use href="#s6" x="988.1" y="855.0"/><use href="#s6" x="989.5" y="856.3"/><use href="#s6" x="990.6" y="857.7"/><use href="#s6" x="991.4" y="859.2"/><use href="#s6" x="991.8" y="860.6"/></g>
  <g><use href="#s6" x="980.0" y="873.8"/><use href="#s6" x="979.6" y="875.1"/><use href="#s6" x="978.9" y="876.4"/><use href="#s6" x="977.8" y="877.7"/><use href="#s6" x="976.4" y="878.9"/><use href="#s6" x="779.6" y="878.9"/><use href="#s6" x="778.2" y="877.7"/><use href="#s6" x="777.1" y="876.4"/><use href="#s6" x="776.4" y="875.1"/><use href="#s6" x="776.0" y="873.8"/><use href="#s6" x="776.0" y="872.6"/><use href="#s6" x="776.4" y="871.3"/><use href="#s6" x="777.1" y="870.0"/><use href="#s6" x="778.2" y="868.7"/><use href="#s6" x="779.6" y="867.5"/><use href="#s6" x="781.4" y="866.2"/><use href="#s6" x="783.5" y="865.0"/><use href="#s6" x="785.9" y="863.8"/><use href="#s6" x="788.7" y="862.7"/><use href="#s6" x="791.7" y="861.6"/><use href="#s6" x="795.1" y="860.5"/><use href="#s6" x="798.8" y="859.5"/><use href="#s6" x="802.7" y="858.5"/><use href="#s6" x="807.0" y="857.6"/><use href="#s6" x="811.4" y="856.7"/><use href="#s6" x="816.1" y="855.9"/><use href="#s6" x="821.0" y="855.1"/><use href="#s6" x="826.1" y="854.4"/><use href="#s6" x="831.4" y="853.8"/><use href="#s6" x="836.9" y="853.2"/><use href="#s6" x="842.5" y="852.8"/><use href="#s6" x="848.2" y="852.4"/><use href="#s6" x="854.0" y="852.0"/><use href="#s6" x="860.0" y="851.7"/><use href="#s6" x="865.9" y="851.6"/><use href="#s6" x="872.0" y="851.4"/><use href="#s6" x="878.0" y="851.4"/><use href="#s6" x="884.0" y="851.4"/><use href="#s6" x="890.1" y="851.6"/><use href="#s6" x="896.0" y="851.7"/><use href="#s6" x="902.0" y="852.0"/><use href="#s6" x="907.8" y="852.4"/><use href="#s6" x="913.5" y="852.8"/><use href="#s6" x="919.1" y="853.2"/><use href="#s6" x="924.6" y="853.8"/><use href="#s6" x="929.9" y="854.4"/><use href="#s6" x="935.0" y="855.1"/><use href="#s6" x="939.9" y="855.9"/><use href="#s6" x="944.6" y="856.7"/><use href="#s6" x="949.0" y="857.6"/><use href="#s6" x="953.3" y="858.5"/><use href="#s6" x="957.2" y="859.5"/><use href="#s6" x="960.9" y="860.5"/><use href="#s6" x="964.3" y="861.6"/><use href="#s6" x="967.3" y="862.7"/><use href="#s6" x="970.1" y="863.8"/><use href="#s6" x="972.5" y="865.0"/><use href="#s6" x="974.6" y="866.2"/><use href="#s6" x="976.4" y="867.5"/><use href="#s6" x="977.8" y="868.7"/><use href="#s6" x="978.9" y="870.0"/><use href="#s6" x="979.6" y="871.3"/><use href="#s6" x="980.0" y="872.6"/></g>
  <g><use href="#s6" x="970.1" y="882.6"/><use href="#s6" x="967.3" y="883.7"/><use href="#s6" x="964.3" y="884.8"/><use href="#s6" x="960.9" y="885.9"/><use href="#s6" x="957.2" y="886.9"/><use href="#s6" x="953.3" y="887.9"/><use href="#s6" x="949.0" y="888.8"/><use href="#s6" x="944.6" y="889.7"/><use href="#s6" x="939.9" y="890.5"/><use href="#s6" x="935.0" y="891.3"/><use href="#s6" x="929.9" y="892.0"/><use href="#s6" x="924.6" y="892.6"/><use href="#s6" x="919.1" y="893.2"/><use href="#s6" x="913.5" y="893.6"/><use href="#s6" x="907.8" y="894.0"/><use href="#s6" x="902.0" y="894.4"/><use href="#s6" x="896.0" y="894.7"/><use href="#s6" x="890.1" y="894.8"/><use href="#s6" x="884.0" y="895.0"/><use href="#s6" x="878.0" y="895.0"/><use href="#s6" x="872.0" y="895.0"/><use href="#s6" x="865.9" y="894.8"/><use href="#s6" x="860.0" y="894.7"/><use href="#s6" x="854.0" y="894.4"/><use href="#s6" x="848.2" y="894.0"/><use href="#s6" x="842.5" y="893.6"/><use href="#s6" x="836.9" y="893.2"/><use href="#s6" x="831.4" y="892.6"/><use href="#s6" x="826.1" y="892.0"/><use href="#s6" x="821.0" y="891.3"/><use href="#s6" x="816.1" y="890.5"/><use href="#s6" x="811.4" y="889.7"/><use href="#s6" x="807.0" y="888.8"/><use href="#s6" x="802.7" y="887.9"/><use href="#s6" x="798.8" y="886.9"/><use href="#s6" x="795.1" y="885.9"/><use href="#s6" x="791.7" y="884.8"/><use href="#s6" x="788.7" y="883.7"/><use href="#s6" x="785.9" y="882.6"/></g>
  <g fill="none"><path d="M770.0 878.0 A108.0 29.5 0 0 0 986.0 878.0" stroke="#fff" stroke-width="4.5"/><path d="M770.0 875.8 A108.0 29.5 0 0 0 986.0 875.8" stroke="#666" stroke-width="0.6"/><path d="M770.0 880.2 A108.0 29.5 0 0 0 986.0 880.2" stroke="#666" stroke-width="0.6"/></g>
  <g><use href="#s6" x="992.0" y="880.0"/><use href="#s6" x="991.8" y="881.6"/><use href="#s6" x="991.4" y="883.3"/><use href="#s6" x="990.6" y="884.9"/><use href="#s6" x="989.5" y="886.5"/><use href="#s6" x="988.1" y="888.1"/><use href="#s6" x="986.3" y="889.7"/><use href="#s6" x="984.3" y="891.2"/><use href="#s6" x="982.0" y="892.7"/><use href="#s6" x="979.4" y="894.2"/><use href="#s6" x="976.5" y="895.6"/><use href="#s6" x="973.3" y="897.0"/><use href="#s6" x="969.9" y="898.4"/><use href="#s6" x="966.2" y="899.6"/><use href="#s6" x="962.2" y="900.9"/><use href="#s6" x="958.1" y="902.1"/><use href="#s6" x="953.7" y="903.2"/><use href="#s6" x="949.1" y="904.2"/><use href="#s6" x="944.3" y="905.2"/><use href="#s6" x="939.3" y="906.1"/><use href="#s6" x="934.1" y="907.0"/><use href="#s6" x="928.8" y="907.8"/><use href="#s6" x="923.4" y="908.4"/><use href="#s6" x="917.8" y="909.1"/><use href="#s6" x="912.1" y="909.6"/><use href="#s6" x="906.3" y="910.0"/><use href="#s6" x="900.4" y="910.4"/><use href="#s6" x="894.5" y="910.7"/><use href="#s6" x="888.5" y="910.9"/><use href="#s6" x="882.5" y="911.0"/><use href="#s6" x="876.5" y="911.0"/><use href="#s6" x="870.5" y="910.9"/><use href="#s6" x="864.5" y="910.8"/><use href="#s6" x="858.5" y="910.5"/><use href="#s6" x="852.6" y="910.2"/><use href="#s6" x="846.8" y="909.8"/><use href="#s6" x="841.1" y="909.3"/><use href="#s6" x="835.4" y="908.8"/><use href="#s6" x="829.9" y="908.1"/><use href="#s6" x="824.5" y="907.4"/><use href="#s6" x="819.3" y="906.6"/><use href="#s6" x="814.2" y="905.7"/><use href="#s6" x="809.3" y="904.7"/><use href="#s6" x="804.6" y="903.7"/><use href="#s6" x="800.1" y="902.6"/><use href="#s6" x="795.8" y="901.5"/><use href="#s6" x="791.8" y="900.3"/><use href="#s6" x="787.9" y="899.0"/><use href="#s6" x="784.4" y="897.7"/><use href="#s6" x="781.1" y="896.3"/><use href="#s6" x="778.0" y="894.9"/><use href="#s6" x="775.3" y="893.5"/><use href="#s6" x="772.8" y="892.0"/><use href="#s6" x="770.6" y="890.4"/><use href="#s6" x="768.8" y="888.9"/><use href="#s6" x="767.2" y="887.3"/><use href="#s6" x="765.9" y="885.7"/><use href="#s6" x="765.0" y="884.1"/><use href="#s6" x="764.4" y="882.5"/><use href="#s6" x="764.0" y="880.8"/><use href="#s6" x="764.0" y="879.2"/><use href="#s6" x="764.4" y="877.5"/><use href="#s6" x="765.0" y="875.9"/><use href="#s6" x="765.9" y="874.3"/><use href="#s6" x="767.2" y="872.7"/><use href="#s6" x="988.1" y="871.9"/><use href="#s6" x="989.5" y="873.5"/><use href="#s6" x="990.6" y="875.1"/><use href="#s6" x="991.4" y="876.7"/><use href="#s6" x="991.8" y="878.4"/></g>
</g>
</svg>
</body></html>
